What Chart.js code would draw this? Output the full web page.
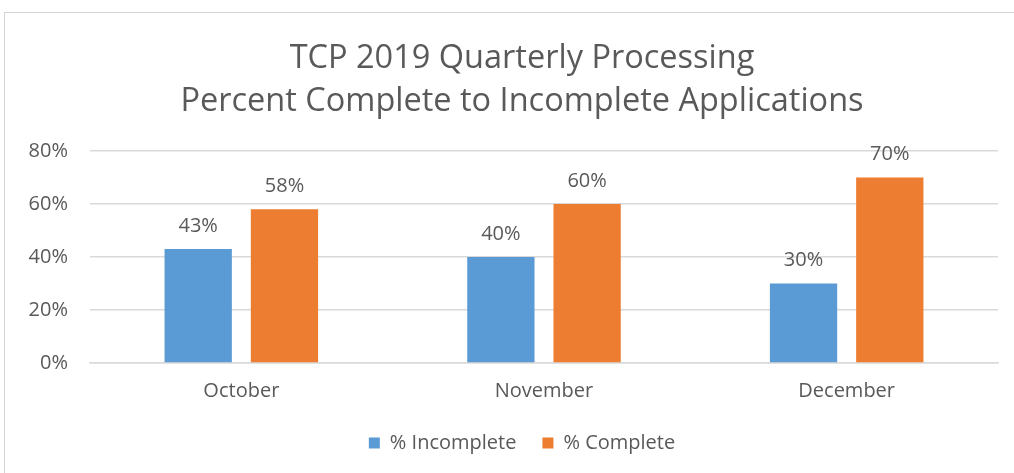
<!DOCTYPE html>
<html>
<head>
<meta charset="utf-8">
<script src="https://cdn.jsdelivr.net/npm/chart.js@4.4.1/dist/chart.umd.min.js"></script>
<style>
  html, body { margin: 0; padding: 0; background: #fff; }
  #wrap { position: relative; width: 1014px; height: 473px; overflow: hidden; }
  #frame { position: absolute; left: 4px; top: 12px; width: 1020px; height: 480px; border: 1.5px solid #d4d4d4; box-sizing: border-box; pointer-events: none; }
  canvas { position: absolute; left: 0; top: 0; }
</style>
</head>
<body>
<div id="wrap">
  <canvas id="c" width="1014" height="473"></canvas>
  <div id="frame"></div>
</div>
<script>
const categories = ["October", "November", "December"];
const incomplete = [43, 40, 30];
const complete = [58, 60, 70];
const seriesNames = ["% Incomplete", "% Complete"];
const titleLines = ["TCP 2019 Quarterly Processing", "Percent Complete to Incomplete Applications"];
const yTicks = [0, 20, 40, 60, 80];

const FONT = "'Open Sans', Lato, sans-serif";
const TEXT = "#595959";

const valueLabels = {
  id: "valueLabels",
  afterDatasetsDraw(chart) {
    const ctx = chart.ctx;
    ctx.save();
    ctx.font = "20px " + FONT;
    ctx.fillStyle = TEXT;
    ctx.textAlign = "center";
    ctx.textBaseline = "middle";
    chart.data.datasets.forEach((ds, i) => {
      const meta = chart.getDatasetMeta(i);
      meta.data.forEach((bar, j) => {
        ctx.fillText(ds.data[j] + "%", bar.x, bar.y - 23);
      });
    });
    ctx.restore();
  }
};

new Chart(document.getElementById("c"), {
  type: "bar",
  data: {
    labels: categories,
    datasets: [
      { label: seriesNames[0], data: incomplete, backgroundColor: "#5B9BD5", categoryPercentage: 0.57, barPercentage: 0.78 },
      { label: seriesNames[1], data: complete, backgroundColor: "#ED7D31", categoryPercentage: 0.57, barPercentage: 0.78 }
    ]
  },
  options: {
    responsive: false,
    animation: false,
    layout: { padding: { top: 37, left: 0, right: -30, bottom: 10 } },
    plugins: {
      title: {
        display: true,
        text: titleLines,
        color: TEXT,
        font: { family: FONT, size: 32.5, weight: "normal", lineHeight: 1.323 },
        padding: { top: 0, bottom: 28 }
      },
      legend: {
        position: "bottom",
        labels: {
          color: TEXT,
          font: { family: FONT, size: 20 },
          boxWidth: 11,
          boxHeight: 11,
          padding: 26
        }
      },
      tooltip: { enabled: false }
    },
    scales: {
      x: {
        afterFit(scale) { scale.height = scale.height - 4; },
        grid: { display: false },
        border: { color: "#d9d9d9", width: 1.5 },
        ticks: { color: TEXT, font: { family: FONT, size: 20 }, padding: 8 }
      },
      y: {
        min: 0,
        max: 80,
        afterFit(scale) { scale.width = 90; },
        afterBuildTicks(scale) { scale.ticks = yTicks.map(v => ({ value: v })); },
        grid: { color: "#d9d9d9", lineWidth: 1.5, drawTicks: false },
        border: { display: false },
        ticks: { color: TEXT, font: { family: FONT, size: 20 }, padding: 22, callback: v => v + "%" }
      },
      yRight: {
        type: "linear",
        position: "right",
        min: 0,
        max: 80,
        afterFit(scale) { scale.width = 46; },
        grid: { display: false },
        border: { display: false },
        ticks: { display: false }
      }
    }
  },
  plugins: [valueLabels]
});
</script>
</body>
</html>
